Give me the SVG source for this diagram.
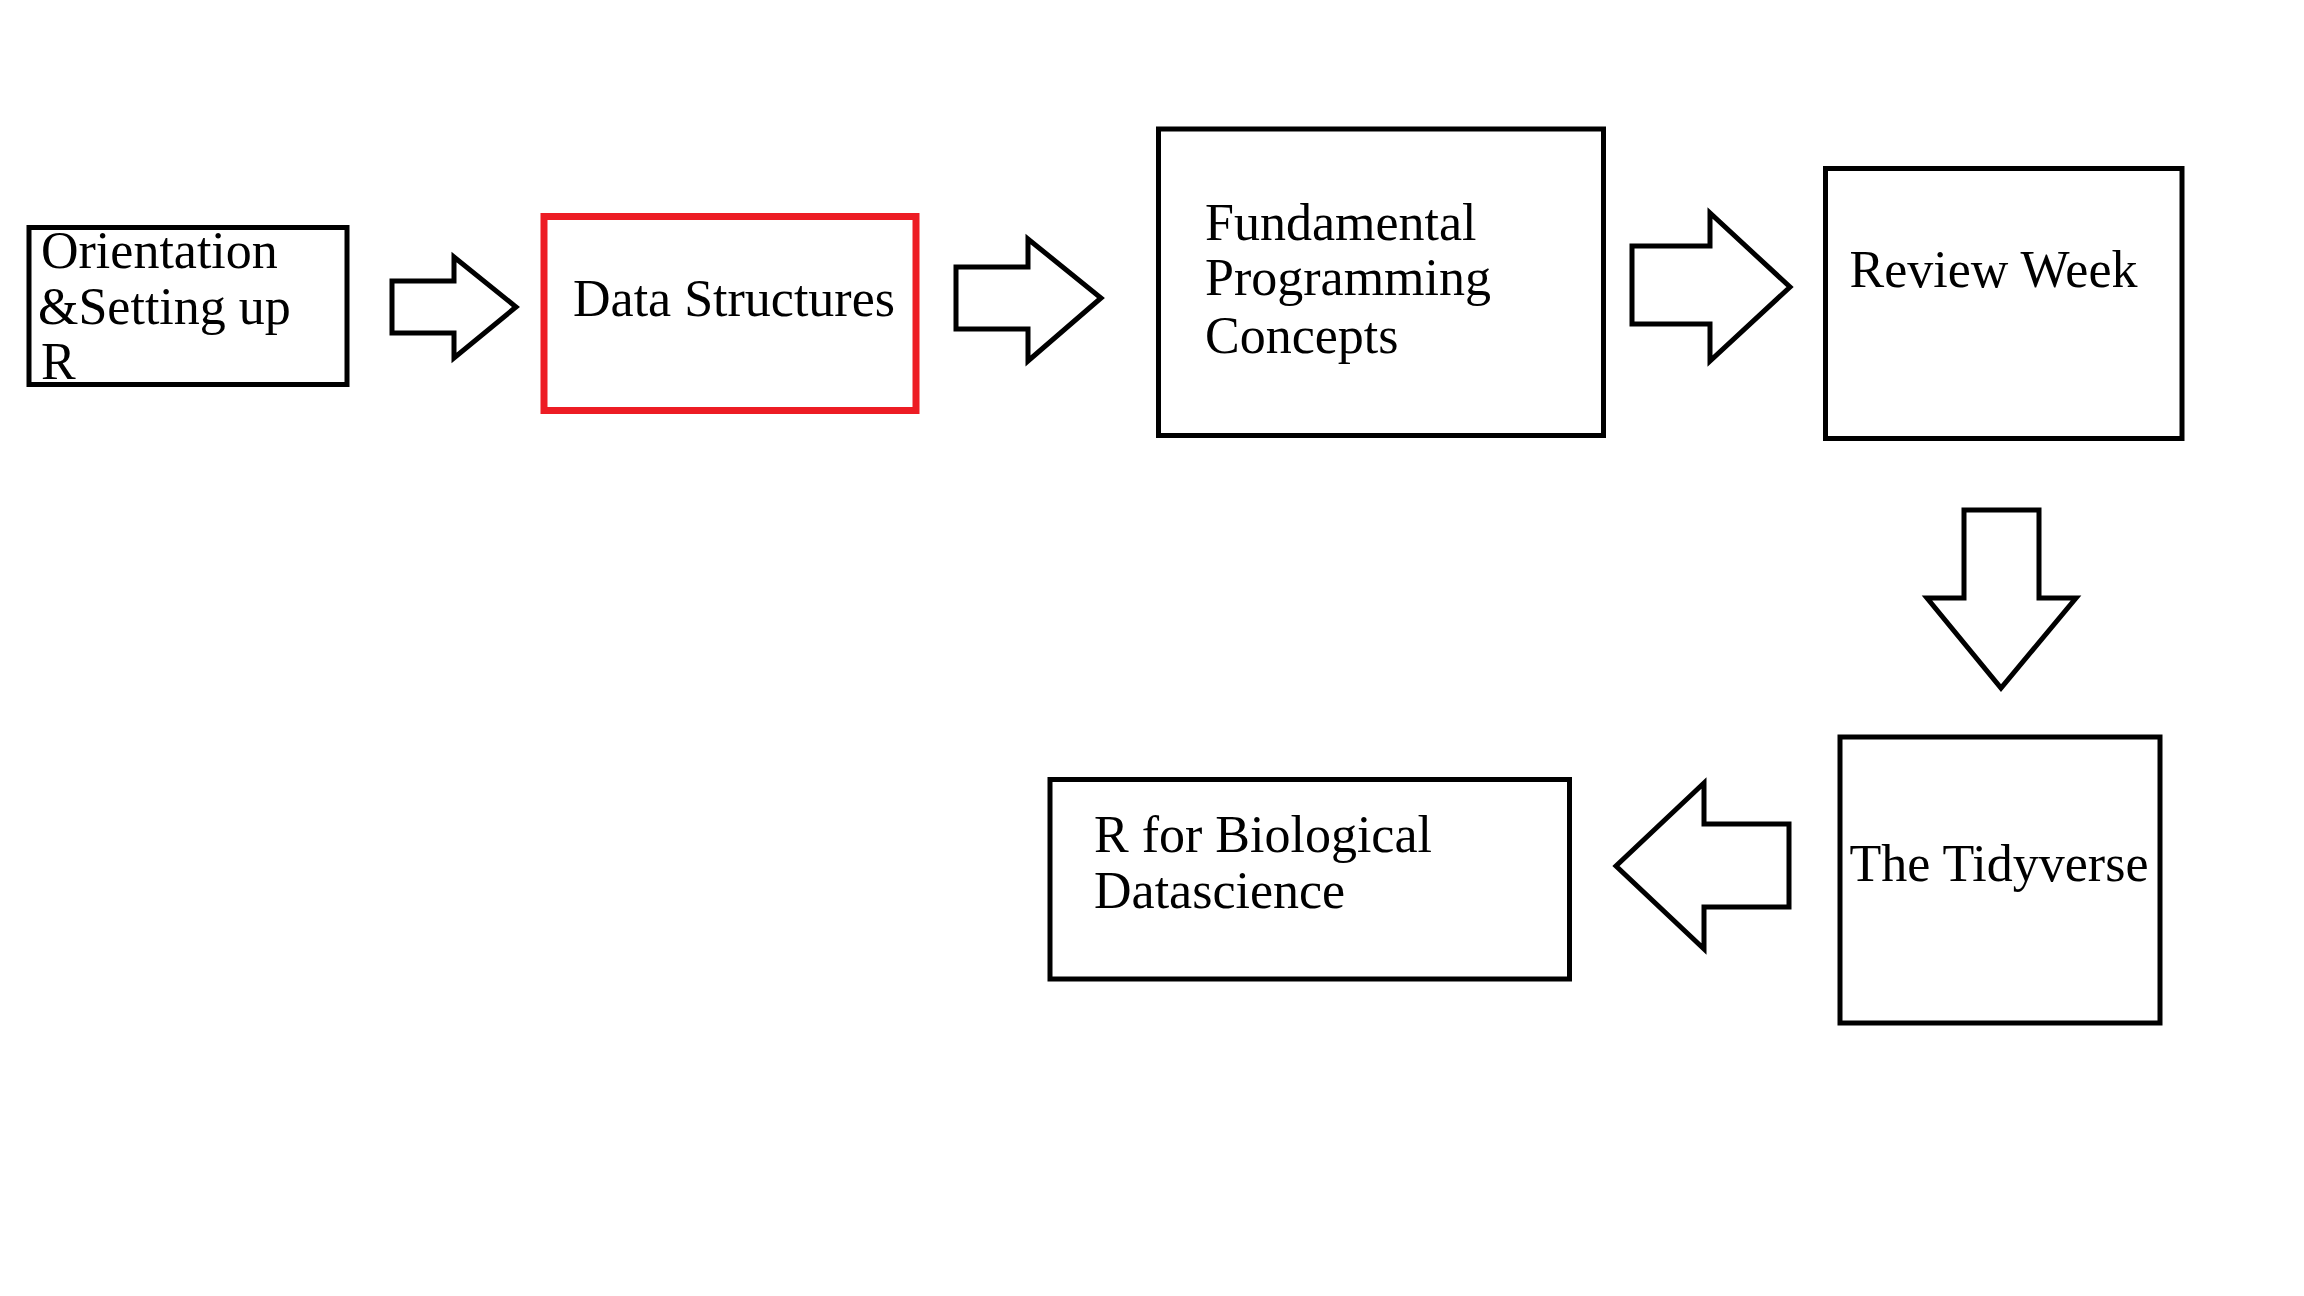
<svg xmlns="http://www.w3.org/2000/svg" width="2304" height="1296" viewBox="0 0 2304 1296">
<style>
.box{fill:#fff;stroke:#000;stroke-width:5}
.hl{fill:#fff;stroke:#ED1C24;stroke-width:7}
.lbl{font-family:"Liberation Serif","Times New Roman",serif;font-size:52px;fill:#000}
.arr{fill:#fff;stroke:#000;stroke-width:5;stroke-linejoin:miter}
</style>
<rect width="2304" height="1296" fill="#fff"/>
<g id="connectors">
<polygon class="arr" points="392,281 454,281 454,257 516,307 454,358 454,333 392,333"/>
<polygon class="arr" points="956,267 1028,267 1028,239 1101,298 1028,361 1028,329 956,329"/>
<polygon class="arr" points="1632,246 1710,246 1710,213 1790,287 1710,361 1710,324 1632,324"/>
<polygon class="arr" points="1964,510 2039,510 2039,598 2076,598 2001,688 1927,598 1964,598"/>
<polygon class="arr" points="1789,824 1704,824 1704,783 1616,866 1704,949 1704,907 1789,907"/>
</g>
<g id="n1">
<rect class="box" x="29" y="227.5" width="318" height="157"/>
<text class="lbl" x="41" y="268">Orientation</text>
<text class="lbl" x="38" y="324">&amp;Setting up</text>
<text class="lbl" x="41" y="379">R</text>
</g>
<g id="n2">
<rect class="hl" x="544" y="216.5" width="372" height="194"/>
<text class="lbl" x="573" y="316">Data Structures</text>
</g>
<g id="n3">
<rect class="box" x="1158.5" y="129" width="445" height="306.5"/>
<text class="lbl" x="1205" y="239.5">Fundamental</text>
<text class="lbl" x="1205" y="295">Programming</text>
<text class="lbl" x="1205" y="352.5">Concepts</text>
</g>
<g id="n4">
<rect class="box" x="1825.5" y="168.5" width="356.5" height="270"/>
<text class="lbl" x="1849.5" y="286.5">Review Week</text>
</g>
<g id="n5">
<rect class="box" x="1840" y="737" width="320" height="286"/>
<text class="lbl" x="1849.5" y="881">The Tidyverse</text>
</g>
<g id="n6">
<rect class="box" x="1050" y="779.5" width="519.5" height="199.5"/>
<text class="lbl" x="1094" y="852">R for Biological</text>
<text class="lbl" x="1094" y="908">Datascience</text>
</g>
</svg>
